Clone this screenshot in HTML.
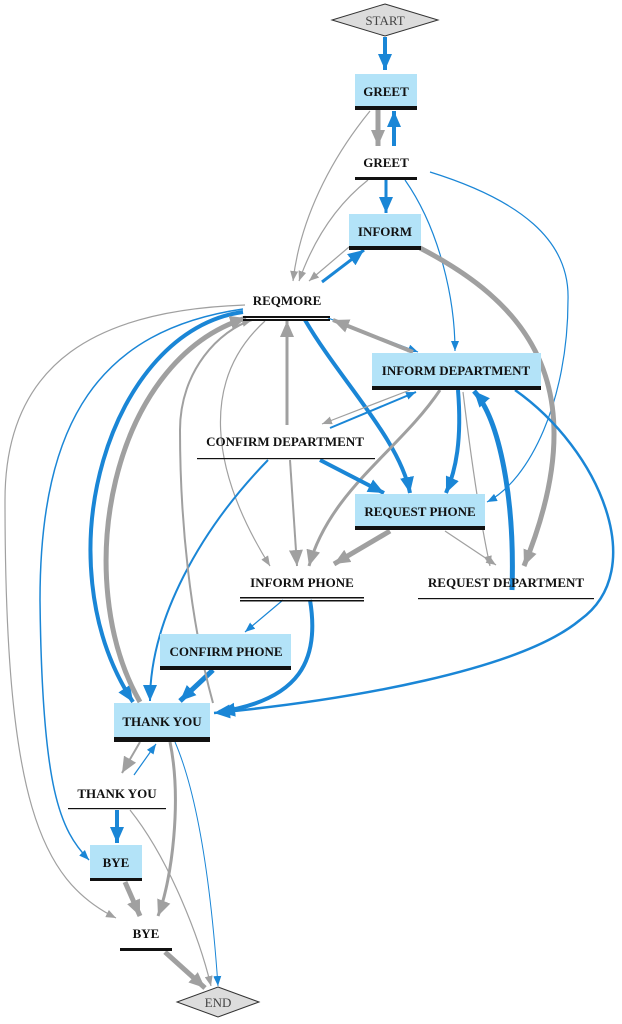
<!DOCTYPE html>
<html><head><meta charset="utf-8"><style>
html,body{margin:0;padding:0;background:#fff;}
svg{display:block;}
text{font-family:"Liberation Serif",serif;font-weight:bold;font-size:13px;fill:#111;text-anchor:middle;}
.b{fill:none;stroke:#1a86d6;}
.g{fill:none;stroke:#a0a0a0;}
</style></head><body>
<svg width="622" height="1024" viewBox="0 0 622 1024" xmlns="http://www.w3.org/2000/svg">
<defs>
<marker id="bS" markerUnits="userSpaceOnUse" markerWidth="10" markerHeight="8" refX="10" refY="4" orient="auto"><path d="M0,0L10,4L0,8z" fill="#1a86d6"/></marker>
<marker id="bL" markerUnits="userSpaceOnUse" markerWidth="16" markerHeight="14" refX="16" refY="7" orient="auto"><path d="M0,0L16,7L0,14z" fill="#1a86d6"/></marker>
<marker id="gS" markerUnits="userSpaceOnUse" markerWidth="10" markerHeight="8" refX="10" refY="4" orient="auto"><path d="M0,0L10,4L0,8z" fill="#a0a0a0"/></marker>
<marker id="gL" markerUnits="userSpaceOnUse" markerWidth="16" markerHeight="14" refX="16" refY="7" orient="auto"><path d="M0,0L16,7L0,14z" fill="#a0a0a0"/></marker>
</defs>

<!-- edges -->
<path class="b" stroke-width="4" d="M385,37 L385,70" marker-end="url(#bL)"/>
<path class="g" stroke-width="5" d="M378,110 L378,146" marker-end="url(#gL)"/>
<path class="b" stroke-width="4" d="M394,146 L394,111" marker-end="url(#bL)"/>
<path class="g" stroke-width="1.2" d="M370,111 C330,160 300,220 293,281" marker-end="url(#gS)"/>
<path class="g" stroke-width="1.2" d="M368,180 C330,210 310,250 299,281" marker-end="url(#gS)"/>
<path class="b" stroke-width="3" d="M386,180 L386,213" marker-end="url(#bL)"/>
<path class="b" stroke-width="1.2" d="M405,180 C440,230 455,300 455,351" marker-end="url(#bS)"/>
<path class="b" stroke-width="1.2" d="M430,172 C520,200 570,240 568,300 C568,400 530,480 487,502" marker-end="url(#bS)"/>
<path class="g" stroke-width="1.2" d="M349,247 L309,281" marker-end="url(#gS)"/>
<path class="b" stroke-width="3" d="M322,282 L364,250" marker-end="url(#bL)"/>
<path class="g" stroke-width="5" d="M420,248 C520,300 600,380 524,566" marker-end="url(#gL)"/>
<path class="b" stroke-width="1.2" d="M328,318 L418,352" marker-end="url(#bS)"/>
<path class="g" stroke-width="4" d="M413,352 L333,320" marker-end="url(#gL)"/>
<path class="b" stroke-width="4" d="M305,320 C340,380 400,440 410,493" marker-end="url(#bL)"/>
<path class="g" stroke-width="1.2" d="M265,321 C200,380 210,470 270,566" marker-end="url(#gS)"/>
<path class="b" stroke-width="4" d="M243,312 C110,330 40,560 133,702" marker-end="url(#bL)"/>
<path class="g" stroke-width="5" d="M140,702 C70,580 110,360 246,318" marker-end="url(#gL)"/>
<path class="b" stroke-width="1.5" d="M243,309 C100,330 40,420 40,600 C42,790 60,830 89,860" marker-end="url(#bS)"/>
<path class="g" stroke-width="1.2" d="M245,305 C100,310 5,360 5,500 C5,800 40,880 116,918" marker-end="url(#gS)"/>
<path class="g" stroke-width="3" d="M287,425 L287,321" marker-end="url(#gL)"/>
<path class="g" stroke-width="1.2" d="M410,390 L322,424" marker-end="url(#gS)"/>
<path class="b" stroke-width="2" d="M330,428 L416,392" marker-end="url(#bS)"/>
<path class="b" stroke-width="4" d="M458,390 C462,440 456,470 446,493" marker-end="url(#bL)"/>
<path class="g" stroke-width="3" d="M440,390 C400,450 330,490 309,566" marker-end="url(#gL)"/>
<path class="g" stroke-width="1.2" d="M463,392 C470,450 480,520 490,566" marker-end="url(#gS)"/>
<path class="b" stroke-width="5" d="M512,590 C515,500 500,420 474,391" marker-end="url(#bL)"/>
<path class="b" stroke-width="2.5" d="M515,390 C600,450 650,570 580,620 C520,670 350,700 214,713" marker-end="url(#bL)"/>
<path class="b" stroke-width="4" d="M320,460 L384,493" marker-end="url(#bL)"/>
<path class="g" stroke-width="2" d="M290,460 L297,566" marker-end="url(#gL)"/>
<path class="b" stroke-width="2" d="M268,460 C200,530 150,620 150,701" marker-end="url(#bL)"/>
<path class="g" stroke-width="5" d="M390,531 L334,564" marker-end="url(#gL)"/>
<path class="g" stroke-width="1.2" d="M445,531 L496,565" marker-end="url(#gS)"/>
<path class="b" stroke-width="1.2" d="M283,600 L245,632" marker-end="url(#bS)"/>
<path class="b" stroke-width="4" d="M310,600 C320,660 300,700 219,712" marker-end="url(#bL)"/>
<path class="b" stroke-width="5" d="M213,670 L180,701" marker-end="url(#bL)"/>
<path class="g" stroke-width="2" d="M213,703 C190,620 180,520 180,430 C180,370 220,330 252,320" marker-end="url(#gS)"/>
<path class="g" stroke-width="2" d="M140,742 L122,773" marker-end="url(#gL)"/>
<path class="b" stroke-width="1.2" d="M134,775 L156,744" marker-end="url(#bS)"/>
<path class="b" stroke-width="4" d="M117,810 L117,843" marker-end="url(#bL)"/>
<path class="g" stroke-width="5" d="M125,882 L140,916" marker-end="url(#gL)"/>
<path class="g" stroke-width="3" d="M170,742 C182,800 172,880 158,916" marker-end="url(#gL)"/>
<path class="g" stroke-width="1.2" d="M130,810 C170,860 200,940 211,986" marker-end="url(#gS)"/>
<path class="b" stroke-width="1" d="M175,742 C200,800 212,900 218,986" marker-end="url(#bS)"/>
<path class="g" stroke-width="5" d="M165,952 L205,988" marker-end="url(#gL)"/>

<!-- START / END diamonds -->
<polygon points="385,4 438,20 385,36 332,20" fill="#dcdcdc" stroke="#333" stroke-width="1"/>
<text x="385" y="25" style="font-weight:normal;fill:#444">START</text>
<polygon points="218,987 259,1002 218,1017 177,1002" fill="#dcdcdc" stroke="#333" stroke-width="1"/>
<text x="218" y="1007" style="font-weight:normal;fill:#444">END</text>

<!-- boxes -->
<g fill="#b3e3f8">
<rect x="355" y="74" width="62" height="34"/>
<rect x="349" y="214" width="72" height="34"/>
<rect x="372" y="353" width="169" height="35"/>
<rect x="355" y="494" width="130" height="34"/>
<rect x="160" y="634" width="131" height="34"/>
<rect x="114" y="703" width="96" height="35"/>
<rect x="90" y="845" width="52" height="34"/>
</g>
<g fill="#111">
<rect x="355" y="106" width="62" height="4"/>
<rect x="349" y="246" width="72" height="4"/>
<rect x="372" y="386" width="169" height="4"/>
<rect x="355" y="526" width="130" height="4"/>
<rect x="160" y="666" width="131" height="4"/>
<rect x="114" y="737" width="96" height="5"/>
<rect x="90" y="878" width="52" height="3"/>
<rect x="355" y="177" width="62" height="3"/>
<rect x="243" y="316" width="87" height="2"/>
<rect x="243" y="319" width="87" height="2"/>
<rect x="197" y="458" width="178" height="1.2"/>
<rect x="240" y="597" width="124" height="1.5"/>
<rect x="240" y="600" width="124" height="1.5"/>
<rect x="418" y="598" width="176" height="1.2"/>
<rect x="68" y="808" width="98" height="1.2"/>
<rect x="120" y="948" width="52" height="3"/>
</g>
<text x="386" y="96">GREET</text>
<text x="385" y="236">INFORM</text>
<text x="456" y="375">INFORM DEPARTMENT</text>
<text x="420" y="516">REQUEST PHONE</text>
<text x="226" y="656">CONFIRM PHONE</text>
<text x="162" y="726">THANK YOU</text>
<text x="116" y="867">BYE</text>
<text x="386" y="167">GREET</text>
<text x="287" y="305">REQMORE</text>
<text x="285" y="446">CONFIRM DEPARTMENT</text>
<text x="302" y="587">INFORM PHONE</text>
<text x="506" y="587">REQUEST DEPARTMENT</text>
<text x="117" y="798">THANK YOU</text>
<text x="146" y="938">BYE</text>
</svg>
</body></html>
